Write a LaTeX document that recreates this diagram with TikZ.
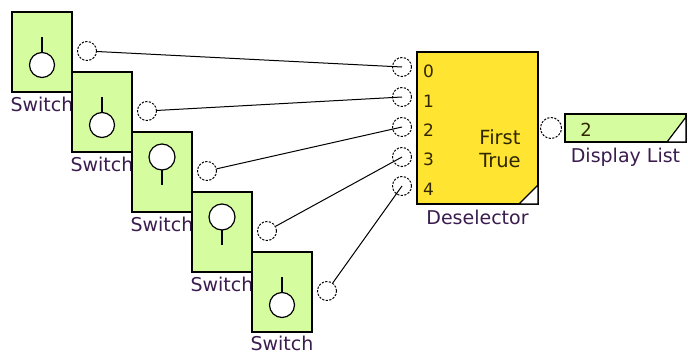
\documentclass[tikz,border=0pt]{standalone}
\usepackage{fontspec}
\setmainfont{DejaVu Sans}
\usetikzlibrary{positioning, calc}
\definecolor{swgreen}{RGB}{214,252,160}
\definecolor{dsyellow}{RGB}{255,228,50}
\definecolor{lblpurple}{RGB}{58,28,78}
\definecolor{txtbrown}{RGB}{48,38,0}

\begin{document}
\begin{tikzpicture}[
    x=1pt, y=-1pt,
    swbox/.style={rectangle, draw=black, line width=1.5pt, fill=swgreen,
        minimum width=60pt, minimum height=80pt, inner sep=0pt, outer sep=0pt},
    dsbox/.style={rectangle, draw=black, line width=1.5pt, fill=dsyellow,
        minimum width=121pt, minimum height=152pt, inner sep=0pt, outer sep=0pt},
    dlbox/.style={rectangle, draw=black, line width=1.5pt, fill=swgreen,
        minimum width=121pt, minimum height=28pt, inner sep=0pt, outer sep=0pt},
    port/.style={circle, draw=black, dash pattern=on 2.2pt off 1.4pt, line width=1pt,
        fill=white, minimum size=19pt, inner sep=0pt},
    knob/.style={draw=black, line width=1.2pt, fill=white},
    stick/.style={line width=1.4pt},
    lbl/.style={font=\fontsize{19}{19}\selectfont, text=lblpurple, inner sep=0pt},
    num/.style={font=\fontsize{17}{17}\selectfont, text=txtbrown, inner sep=0pt},
    wire/.style={line width=1pt}
]
\useasboundingbox (0,0) rectangle (688,356);

% switches, each label drawn before the next box so it gets covered
\node[swbox] (sw1) at (42,52) {};
\node[lbl, below=5pt of sw1] (l1) {Switch};
\node[swbox] (sw2) at (102,112) {};
\node[lbl, below=5pt of sw2] (l2) {Switch};
\node[swbox] (sw3) at (162,172) {};
\node[lbl, below=5pt of sw3] (l3) {Switch};
\node[swbox] (sw4) at (222,232) {};
\node[lbl, below=5pt of sw4] (l4) {Switch};
\node[swbox] (sw5) at (282,292) {};
\node[lbl, below=4pt of sw5] (l5) {Switch};

% off: stick up, knob down / on: knob up, stick down
\draw[stick] ($(sw1.north)+(0,25)$) -- ++(0,16);
\draw[knob] ($(sw1.north)+(0,53)$) circle[radius=12.5pt];
\draw[stick] ($(sw2.north)+(0,25)$) -- ++(0,16);
\draw[knob] ($(sw2.north)+(0,53)$) circle[radius=12.5pt];
\draw[stick] ($(sw3.north)+(0,38)$) -- ++(0,15);
\draw[knob] ($(sw3.north)+(0,25)$) circle[radius=13pt];
\draw[stick] ($(sw4.north)+(0,38)$) -- ++(0,15);
\draw[knob] ($(sw4.north)+(0,25)$) circle[radius=13pt];
\draw[stick] ($(sw5.north)+(0,25)$) -- ++(0,16);
\draw[knob] ($(sw5.north)+(0,53)$) circle[radius=12.5pt];

\node[port] (o1) at (87,51) {};
\node[port] (o2) at (147,111) {};
\node[port] (o3) at (207,171) {};
\node[port] (o4) at (267,231) {};
\node[port] (o5) at (327,291) {};

% deselector
\node[dsbox] (desel) at (477.5,128) {};
\draw[line width=1.2pt, fill=white] ($(desel.south east)+(-19,0)$) -- (desel.south east)
    -- ($(desel.south east)+(0,-19)$) -- cycle;
\node[num, anchor=west] (n0) at (423,71) {0};
\node[num, anchor=west] (n1) at (423,101) {1};
\node[num, anchor=west] (n2) at (423,130) {2};
\node[num, anchor=west] (n3) at (423,159) {3};
\node[num, anchor=west] (n4) at (423,189) {4};
\node[num, font=\fontsize{19.5}{23}\selectfont, align=center] (ft) at (500,149) {First\\True};
\node[lbl, below=6pt of desel] (dlbl) {Deselector};

\node[port] (i0) at (402,67) {};
\node[port] (i1) at (402,97) {};
\node[port] (i2) at (402,127) {};
\node[port] (i3) at (402,157) {};
\node[port] (i4) at (402,186) {};
\node[port, minimum size=21pt] (od) at (551,128) {};

% display list
\node[dlbox] (dlist) at (625.5,128) {};
\draw[line width=1.2pt, fill=white] ($(dlist.south east)+(-19,0)$) -- (dlist.south east)
    -- ($(dlist.south east)+(0,-25)$) -- cycle;
\node[num, font=\fontsize{18}{18}\selectfont] (dval) at (586,130) {2};
\node[lbl, below=6pt of dlist] (dllbl) {Display List};

\draw[wire] (o1) -- (i0.center);
\draw[wire] (o2) -- (i1.center);
\draw[wire] (o3) -- (i2.center);
\draw[wire] (o4) -- (i3.center);
\draw[wire] (o5) -- (i4.center);
\end{tikzpicture}
\end{document}
